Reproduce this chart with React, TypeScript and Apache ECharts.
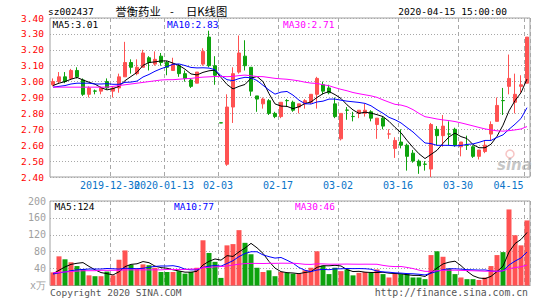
import React, { useEffect, useRef } from 'react';
import * as echarts from 'echarts';

const dates = [
  '2019-12-16','2019-12-17','2019-12-18','2019-12-19','2019-12-20','2019-12-23','2019-12-24','2019-12-25','2019-12-26','2019-12-27',
  '2019-12-30','2019-12-31','2020-01-02','2020-01-03','2020-01-06','2020-01-07','2020-01-08','2020-01-09','2020-01-10','2020-01-13',
  '2020-01-14','2020-01-15','2020-01-16','2020-01-17','2020-01-20','2020-01-21','2020-01-22','2020-01-23','2020-02-03','2020-02-04',
  '2020-02-05','2020-02-06','2020-02-07','2020-02-10','2020-02-11','2020-02-12','2020-02-13','2020-02-14','2020-02-17','2020-02-18',
  '2020-02-19','2020-02-20','2020-02-21','2020-02-24','2020-02-25','2020-02-26','2020-02-27','2020-02-28','2020-03-02','2020-03-03',
  '2020-03-04','2020-03-05','2020-03-06','2020-03-09','2020-03-10','2020-03-11','2020-03-12','2020-03-13','2020-03-16','2020-03-17',
  '2020-03-18','2020-03-19','2020-03-20','2020-03-23','2020-03-24','2020-03-25','2020-03-26','2020-03-27','2020-03-30','2020-03-31',
  '2020-04-01','2020-04-02','2020-04-03','2020-04-07','2020-04-08','2020-04-09','2020-04-10','2020-04-13','2020-04-14','2020-04-15',
];

const opens = [
  2.98,3.00,3.03,3.02,3.07,3.01,2.92,2.941,2.94,3.00,
  2.94,2.96,3.03,3.12,3.05,3.09,3.15,3.11,3.16,3.12,
  3.07,3.10,3.05,3.01,2.99,3.11,3.28,3.10,2.741,2.48,
  2.84,3.06,3.16,3.09,2.91,2.86,2.88,2.80,2.78,2.881,
  2.87,2.84,2.86,2.87,2.92,2.98,2.96,2.86,2.64,2.821,
  2.781,2.80,2.80,2.81,2.73,2.77,2.67,2.58,2.62,2.60,
  2.55,2.50,2.481,2.45,2.70,2.66,2.671,2.70,2.59,2.601,
  2.59,2.53,2.56,2.67,2.75,2.881,2.97,2.87,2.97,2.99,
];
const closes = [
  3.00,3.03,3.00,3.07,3.03,2.92,2.96,2.94,2.96,2.96,
  2.96,3.03,3.12,3.09,3.09,3.18,3.12,3.14,3.12,3.09,
  3.11,3.05,3.02,2.97,3.06,3.19,3.10,3.04,2.74,2.84,
  3.05,3.18,3.10,2.94,2.89,2.89,2.80,2.78,2.87,2.88,
  2.82,2.86,2.88,2.92,3.02,2.94,2.93,2.78,2.80,2.82,
  2.78,2.82,2.82,2.77,2.77,2.72,2.671,2.63,2.60,2.53,
  2.50,2.47,2.48,2.73,2.66,2.72,2.67,2.60,2.62,2.60,
  2.53,2.57,2.60,2.73,2.85,2.88,3.02,2.92,2.98,3.28,
];
const lows = [
  2.97,2.99,2.99,3.01,3.02,2.91,2.90,2.92,2.92,2.95,
  2.90,2.93,3.03,3.05,3.04,3.09,3.07,3.10,3.10,3.04,
  3.07,3.03,3.00,2.96,2.99,3.10,3.09,2.98,2.74,2.47,
  2.74,3.05,3.07,2.91,2.81,2.83,2.79,2.77,2.77,2.84,
  2.81,2.80,2.83,2.86,2.83,2.92,2.92,2.77,2.63,2.76,
  2.75,2.77,2.78,2.75,2.64,2.70,2.64,2.52,2.58,2.44,
  2.49,2.42,2.44,2.40,2.60,2.59,2.60,2.59,2.53,2.57,
  2.52,2.51,2.55,2.63,2.75,2.79,2.92,2.80,2.93,2.99,
];
const highs = [
  3.02,3.06,3.06,3.08,3.09,3.02,2.97,2.95,2.97,3.02,
  2.97,3.05,3.25,3.14,3.14,3.20,3.16,3.19,3.18,3.13,
  3.15,3.11,3.07,3.02,3.06,3.21,3.32,3.16,2.741,2.92,
  3.09,3.29,3.26,3.09,2.91,2.90,2.89,2.81,2.87,2.89,
  2.88,2.86,2.89,2.92,3.03,3.00,2.98,2.90,2.80,2.84,
  2.81,2.82,2.86,2.82,2.77,2.78,2.70,2.65,2.70,2.61,
  2.57,2.51,2.50,2.74,2.72,2.79,2.75,2.71,2.62,2.66,
  2.60,2.57,2.63,2.75,2.90,2.96,3.17,3.05,3.04,3.28,
];
// volume in 10k shares (x万)
const volumes = [
  31,69,62,55,46,39,24,22,22,33,
  24,61,83,49,40,50,48,42,32,32,
  32,34,28,32,42,107,77,56,18,95,
  98,131,101,74,42,32,36,22,32,30,
  28,28,36,42,81,47,27,42,34,38,
  24,30,32,30,38,27,19,28,27,27,
  19,19,15,72,81,68,40,27,19,15,
  15,13,19,46,72,79,180,119,95,154,
];

const ma5Head = [2.975, 2.99, 3.0, 3.015];
const ma10Head = [2.965, 2.97, 2.975, 2.985, 2.99, 2.99, 2.99, 2.985, 2.985];
const ma30Head = [
  2.965,2.965,2.965,2.965,2.965,2.965,2.965,2.965,2.965,2.965,
  2.97,2.975,2.98,2.985,2.99,2.995,3.0,3.005,3.01,3.012,
  3.012,3.015,3.018,3.02,3.025,3.028,3.03,3.032,3.033,
];
const volMa5Head = [28, 36, 44, 50];
const volMa10Head = [27, 30, 32, 35, 37, 38, 39, 39, 39];
const volMa30Head = [
  30,31,32,33,34,35,35,35,36,36,
  36,36,37,37,37,37,37,37,37,38,
  38,38,38,39,39,42,43,44,45,
];

const labelDates = ['2019-12-30','2020-01-13','2020-02-03','2020-02-17','2020-03-02','2020-03-16','2020-03-30','2020-04-15'];
const labelTexts = ['2019-12-30','2020-01-13','02-03','02-17','03-02','03-16','03-30','04-15'];

const priceTicks = { min: 2.4, max: 3.4, interval: 0.1 };
const volTicks = { min: 0, max: 200, interval: 40 };

const priceLegend = ['MA5:3.01', 'MA10:2.83', 'MA30:2.71'];
const volLegend = ['MA5:124', 'MA10:77', 'MA30:46'];

const RED = '#ff5252';
const GREEN = '#0ea30e';
const BLUE_LABEL = '#0a74c8';
const MONO = 'DejaVu Sans Mono';
const CJK = 'Noto Sans CJK SC';

function movingAvg(values: number[], n: number, head: number[]) {
  return values.map((_, i) => {
    if (i < n - 1) return head[i];
    let s = 0;
    for (let k = i - n + 1; k <= i; k++) s += values[k];
    return +(s / n).toFixed(4);
  });
}

export default function App() {
  const ref = useRef<HTMLDivElement>(null);
  useEffect(() => {
    const chart = echarts.init(ref.current!, null, { renderer: 'svg' });
    const candles = dates.map((_, i) => [opens[i], closes[i], lows[i], highs[i]]);
    const volData = volumes.map((v, i) => ({
      value: v,
      itemStyle: { color: closes[i] >= opens[i] ? RED : GREEN },
    }));
    const splitX = {
      show: true,
      interval: (_i: number, v: string) => labelDates.includes(v),
      lineStyle: { color: '#a8a8a8', type: [4, 3], width: 1 },
    };
    const rich = {
      n: { padding: [0, 6, 0, 0], color: BLUE_LABEL, fontSize: 10, fontFamily: MONO },
      e: { padding: [0, 37, 0, 0], color: BLUE_LABEL, fontSize: 10, fontFamily: MONO },
    };
    // first label is drawn by its own axis so that it is not dropped where it overlaps the next one
    const labelAxis = (which: 'first' | 'rest') => ({
      type: 'category',
      gridIndex: 0,
      position: 'bottom',
      offset: 0,
      data: dates,
      boundaryGap: true,
      axisLine: { show: false },
      axisTick: { show: false },
      axisLabel: {
        hideOverlap: false,
        interval: (_i: number, v: string) => {
          const k = labelDates.indexOf(v);
          return which === 'first' ? k === 0 : k > 0;
        },
        margin: 3,
        formatter: (v: string) => {
          const k = labelDates.indexOf(v);
          if (k < 0) return '';
          return k === labelDates.length - 1 ? `{e|${labelTexts[k]}}` : `{n|${labelTexts[k]}}`;
        },
        rich,
      },
      splitLine: which === 'rest' ? splitX : { show: false },
    });
    const lineSeries = (name: string, data: number[], color: string, idx: number) => ({
      name,
      type: 'line',
      xAxisIndex: idx,
      yAxisIndex: idx,
      data,
      showSymbol: false,
      symbol: 'none',
      lineStyle: { width: 1, color },
      itemStyle: { color },
      silent: true,
      z: 5,
    });
    const text = (t: string, x: number, y: number, fill: string, opts: any = {}) => ({
      type: 'text',
      x,
      y,
      silent: true,
      z: 100,
      style: {
        text: t,
        fill,
        fontSize: 9.5,
        fontFamily: MONO,
        textAlign: 'left',
        textVerticalAlign: 'middle',
        ...opts,
      },
    });
    const option: any = {
      animation: false,
      backgroundColor: '#ffffff',
      grid: [
        { left: 50, top: 18, width: 480, height: 159, show: true, borderColor: '#a0a0a0', borderWidth: 1 },
        { left: 50, top: 201, width: 480, height: 84.5, show: true, borderColor: '#a0a0a0', borderWidth: 1 },
      ],
      xAxis: [
        labelAxis('rest'),
        {
          type: 'category',
          gridIndex: 1,
          data: dates,
          boundaryGap: true,
          axisLine: { show: false },
          axisTick: { show: false },
          axisLabel: { show: false },
          splitLine: splitX,
        },
        labelAxis('first'),
      ],
      yAxis: [
        {
          type: 'value',
          gridIndex: 0,
          ...priceTicks,
          axisLine: { show: false },
          axisTick: { show: false },
          axisLabel: {
            color: '#ff0000',
            fontSize: 9.5,
            fontFamily: MONO,
            margin: 6,
            formatter: (v: number) => v.toFixed(2),
          },
          splitLine: { show: true, lineStyle: { color: '#a8a8a8', type: [1, 2], width: 1 } },
        },
        {
          type: 'value',
          gridIndex: 1,
          ...volTicks,
          axisLine: { show: false },
          axisTick: { show: false },
          axisLabel: {
            color: '#a0a0a0',
            fontSize: 10,
            fontFamily: MONO,
            margin: 4,
            formatter: (v: number) => (v === 0 ? 'x万' : String(v)),
          },
          splitLine: { show: true, lineStyle: { color: '#a8a8a8', type: [1, 2], width: 1 } },
        },
      ],
      series: [
        {
          type: 'candlestick',
          xAxisIndex: 0,
          yAxisIndex: 0,
          data: candles,
          barWidth: 4,
          silent: true,
          itemStyle: { color: RED, color0: GREEN, borderColor: RED, borderColor0: GREEN, borderWidth: 1 },
          z: 3,
        },
        lineSeries('MA5', movingAvg(closes, 5, ma5Head), '#000000', 0),
        lineSeries('MA10', movingAvg(closes, 10, ma10Head), '#0000ff', 0),
        lineSeries('MA30', movingAvg(closes, 30, ma30Head), '#ff00ff', 0),
        {
          type: 'bar',
          xAxisIndex: 1,
          yAxisIndex: 1,
          data: volData,
          barWidth: 5,
          silent: true,
          z: 3,
        },
        lineSeries('VMA5', movingAvg(volumes, 5, volMa5Head), '#000000', 1),
        lineSeries('VMA10', movingAvg(volumes, 10, volMa10Head), '#0000ff', 1),
        lineSeries('VMA30', movingAvg(volumes, 30, volMa30Head), '#ff00ff', 1),
      ],
      graphic: [
        text('sz002437', 48, 11, '#000'),
        text('誉衡药业', 115.5, 11, '#000', { fontSize: 11.3, fontFamily: CJK }),
        text('-', 170, 11, '#000', { fontSize: 11, fontFamily: CJK }),
        text('日K线图', 186, 11, '#000', { fontSize: 11.3, fontFamily: CJK }),
        text('2020-04-15 15:00:00', 507, 11, '#000', { textAlign: 'right' }),
        text(priceLegend[0], 52.5, 24, '#000'),
        text(priceLegend[1], 167, 24, '#0000ff'),
        text(priceLegend[2], 283, 24, '#ff00ff'),
        text(volLegend[0], 54.5, 206, '#000'),
        text(volLegend[1], 174, 206, '#0000ff'),
        text(volLegend[2], 295, 206, '#ff00ff'),
        text('Copyright 2020 SINA.COM', 50, 292, '#555', { fontSize: 9.5 }),
        text('http://finance.sina.com.cn', 528, 292, '#555', { fontSize: 9.8, textAlign: 'right' }),
        text('sina', 497, 165, 'rgba(150,150,150,0.55)', {
          fontSize: 15, fontFamily: 'DejaVu Sans', fontStyle: 'italic', fontWeight: 'bold',
        }),
        {
          type: 'circle',
          silent: true,
          z: 99,
          shape: { cx: 510, cy: 154, r: 4 },
          style: { fill: 'none', stroke: 'rgba(240,140,140,0.5)', lineWidth: 1.5 },
        },
      ],
    };
    chart.setOption(option);
    return () => chart.dispose();
  }, []);
  return <div ref={ref} style={{ width: 545, height: 300, position: 'absolute', left: 0, top: 0 }} />;
}
